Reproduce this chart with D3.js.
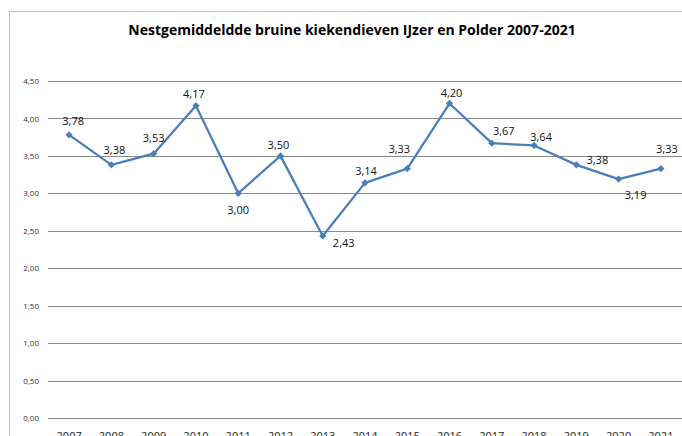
<!DOCTYPE html>
<html>
<head>
<meta charset="utf-8">
<script src="https://cdn.jsdelivr.net/npm/d3@7"></script>
<style>
  body { margin: 0; background: #fff; }
  svg { display: block; }
  text { font-family: "Open Sans", "Liberation Sans", sans-serif; }
</style>
</head>
<body>
<script>
// data
var years = ['2007', '2008', '2009', '2010', '2011', '2012', '2013', '2014', '2015', '2016', '2017', '2018', '2019', '2020', '2021'];
var nestAverage = [3.78, 3.38, 3.53, 4.17, 3.00, 3.50, 2.43, 3.14, 3.33, 4.20, 3.67, 3.64, 3.38, 3.19, 3.33];
var yTicks = [0, 0.5, 1, 1.5, 2, 2.5, 3, 3.5, 4, 4.5];
var title = 'Nestgemiddeldde bruine kiekendieven IJzer en Polder 2007-2021';

// where each data label sits, relative to its point (as in the original sheet)
var labelOffsets = [[4, -14], [3, -15], [0, -16], [-2, -12], [0, 16], [-2, -11], [21, 6], [1, -12],
                    [-8, -20], [2, -11], [12, -13], [7, -9], [21, -5], [17, 15], [6, -20]];

var W = 682, H = 436;
var plot = { left: 48, right: 682, top: 81, bottom: 418 };

var nl = d3.formatLocale({ decimal: ',', thousands: '.', grouping: [3], currency: ['€', ''] });
var fmt = nl.format('.2f');

var svg = d3.select('body').append('svg').attr('width', W).attr('height', H);

// chart frame (cut off at right and bottom)
svg.append('rect')
  .attr('x', 9.5).attr('y', 11.5).attr('width', W + 20).attr('height', H + 20)
  .attr('fill', '#fff').attr('stroke', '#bfbfbf');

svg.append('text')
  .attr('x', 352).attr('y', 35)
  .attr('text-anchor', 'middle')
  .style('font-size', '14px').style('font-weight', 'bold').attr('fill', '#000')
  .text(title);

var x = d3.scaleBand().domain(years).range([plot.left, plot.right]).padding(0);
var y = d3.scaleLinear().domain([0, 4.5]).range([plot.bottom, plot.top]);
var cx = function(i){ return x(years[i]) + x.bandwidth() / 2; };

/***********************************************************************************/
// Axes

var yAxis = svg.append('g')
  .attr('transform', 'translate(' + plot.left + ',0)')
  .call(d3.axisLeft(y).tickValues(yTicks).tickFormat(fmt)
    .tickSizeInner(-(plot.right - plot.left)).tickSizeOuter(0).tickPadding(9));
yAxis.select('.domain').remove();
yAxis.selectAll('line').attr('stroke', '#8a8a8a').attr('shape-rendering', 'crispEdges');
yAxis.selectAll('text').style('font-size', '8px').attr('fill', '#333');

var xAxis = svg.append('g')
  .attr('transform', 'translate(0,' + plot.bottom + ')')
  .call(d3.axisBottom(x).tickSize(0).tickPadding(14));
xAxis.select('.domain').remove();
xAxis.selectAll('text').style('font-size', '11px').attr('fill', '#222');

/***********************************************************************************/
// Line + markers

var line = d3.line()
  .x(function(d, i){ return cx(i); })
  .y(function(d){ return y(d); });

svg.append('path')
  .datum(nestAverage)
  .attr('d', line)
  .attr('fill', 'none')
  .attr('stroke', '#4a7ebb')
  .attr('stroke-width', 2.25)
  .attr('stroke-linejoin', 'round');

svg.selectAll('.marker')
  .data(nestAverage)
  .enter().append('path')
  .attr('class', 'marker')
  .attr('d', d3.symbol(d3.symbolSquare, 26))
  .attr('transform', function(d, i){ return 'translate(' + cx(i) + ',' + y(d) + ') rotate(45)'; })
  .attr('fill', '#4a7ebb');

svg.selectAll('.label')
  .data(nestAverage)
  .enter().append('text')
  .attr('class', 'label')
  .attr('x', function(d, i){ return cx(i) + labelOffsets[i][0]; })
  .attr('y', function(d, i){ return y(d) + labelOffsets[i][1]; })
  .attr('text-anchor', 'middle')
  .attr('dominant-baseline', 'central')
  .style('font-size', '11px')
  .attr('fill', '#111')
  .text(function(d){ return fmt(d); });
</script>
</body>
</html>
